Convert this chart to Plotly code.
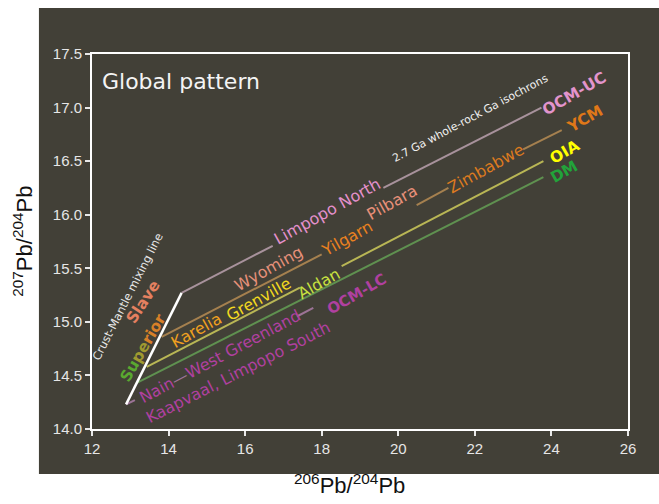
import plotly.graph_objects as go

# ---- data: Pb-Pb isochron traces (206Pb/204Pb, 207Pb/204Pb) ----
mixing_x = [12.89, 14.34]
mixing_y = [14.23, 15.27]

ocm_uc_x = [14.34, 16.72, None, 19.61, 23.74]
ocm_uc_y = [15.27, 15.71, None, 16.25, 17.00]

ycm_x = [13.82, 18.00, None, 20.48, 21.31, None, 23.26, 24.27]
ycm_y = [14.86, 15.63, None, 16.09, 16.25, None, 16.61, 16.79]

oia_x = [13.43, 17.43, None, 18.52, 23.79]
oia_y = [14.58, 15.32, None, 15.52, 16.50]

dm_x = [13.17, 23.79]
dm_y = [14.43, 16.35]

ocm_lc_x = [12.89, 13.12, None, 17.35, 17.78]
ocm_lc_y = [14.23, 14.27, None, 15.05, 15.13]

x_ticks = [12, 14, 16, 18, 20, 22, 24, 26]
y_ticks = [14.0, 14.5, 15.0, 15.5, 16.0, 16.5, 17.0, 17.5]

PANEL = "#424037"
FONT = "DejaVu Sans"

fig = go.Figure()

series = [
    (ocm_uc_x, ocm_uc_y, "#a8929c", 2),
    (ycm_x, ycm_y, "#a5804f", 2),
    (oia_x, oia_y, "#b9b655", 2),
    (dm_x, dm_y, "#5f9150", 2),
    (ocm_lc_x, ocm_lc_y, "#9c7396", 2),
    (mixing_x, mixing_y, "#ffffff", 2.5),
]
for xs, ys, col, w in series:
    fig.add_trace(go.Scatter(x=xs, y=ys, mode="lines",
                             line=dict(color=col, width=w),
                             connectgaps=False, hoverinfo="skip",
                             showlegend=False))

# ---- labels placed along the isochrons ----
labels = [
    # text, x, y, colour, size, angle, bold
    ("2.7 Ga whole-rock Ga isochrons", 21.87, 16.90, "#f0f0f0", 11, -28, False),
    ("Limpopo North", 18.14, 16.03, "#e490cc", 16, -29, False),
    ("Wyoming", 16.62, 15.50, "#e6907a", 16, -29, False),
    ("Karelia", 14.72, 14.92, "#f0a020", 16, -29, False),
    ("Grenville", 16.34, 15.21, "#f2d820", 16, -29, False),
    ("Aldan", 17.93, 15.36, "#c8e040", 16, -29, False),
    ("Yilgarn", 18.66, 15.78, "#ea8020", 16, -29, False),
    ("Pilbara", 19.84, 16.11, "#e8907a", 16, -29, False),
    ("Zimbabwe", 22.29, 16.43, "#dc7a20", 16, -29, False),
    ("OCM-UC", 24.59, 17.13, "#e294cc", 15.5, -30, True),
    ("YCM", 24.88, 16.89, "#e07818", 15.5, -30, True),
    ("OIA", 24.35, 16.59, "#ffff00", 15.5, -30, True),
    ("DM", 24.33, 16.40, "#22a33a", 15.5, -30, True),
    ("OCM-LC", 18.92, 15.26, "#b040a0", 15, -30, True),
    ("Nain<span style='color:#9c7396'>—</span>West Greenland", 15.34, 14.68,
     "#b040a0", 16, -28, False),
    ("Kaapvaal, Limpopo South", 15.81, 14.53, "#b040a0", 16, -27, False),
    ("Slave", 13.33, 15.19, "#e58060", 15.5, -57, True),
    ("<span style='color:#5aa830'>Su</span><span style='color:#a09a30'>pe</span>rior",
     13.33, 14.76, "#d88028", 15.5, -60, True),
    ("Crust-Mantle mixing line", 12.94, 15.24, "#e8e8e8", 11.5, -63, False),
]
for text, x, y, col, size, ang, bold in labels:
    fig.add_annotation(x=x, y=y, xref="x", yref="y",
                       text=f"<b>{text}</b>" if bold else text,
                       showarrow=False, textangle=ang,
                       xanchor="center", yanchor="middle",
                       font=dict(family=FONT, size=size, color=col))

fig.add_annotation(x=12.2, y=17.24, xref="x", yref="y", text="Global pattern",
                   showarrow=False, xanchor="left", yanchor="middle",
                   font=dict(family=FONT, size=22, color="#f4f4f4"))

# axis titles outside the dark panel
fig.add_annotation(x=0.481, y=-0.148, xref="paper", yref="paper",
                   text="<sup>206</sup>Pb/<sup>204</sup>Pb", showarrow=False,
                   xanchor="center", yanchor="middle",
                   font=dict(family="Liberation Sans", size=22, color="#111111"))
fig.add_annotation(x=-0.13, y=0.50, xref="paper", yref="paper",
                   text="<sup>207</sup>Pb/<sup>204</sup>Pb", showarrow=False,
                   textangle=-90, xanchor="center", yanchor="middle",
                   font=dict(family="Liberation Sans", size=22, color="#111111"))

# dark panel behind the plot
fig.add_shape(type="rect", xref="paper", yref="paper",
              x0=-0.099, x1=1.06, y0=-0.12, y1=1.123,
              fillcolor=PANEL, line=dict(width=0), layer="below")

axis_common = dict(showgrid=False, zeroline=False, showline=True,
                   linecolor="#ffffff", linewidth=2, mirror=True,
                   ticks="outside", ticklen=5, tickwidth=1.5,
                   tickcolor="#e8e8e8",
                   tickfont=dict(family="Liberation Sans", size=15,
                                 color="#e6e6e6"))

fig.update_xaxes(range=[12, 26], tickvals=x_ticks, **axis_common)
fig.update_yaxes(range=[14, 17.5], tickvals=y_ticks, tickformat=".1f",
                 **axis_common)

fig.update_layout(width=659, height=504,
                  margin=dict(l=92, r=31, t=54, b=75),
                  paper_bgcolor="#ffffff", plot_bgcolor=PANEL,
                  showlegend=False)

fig.write_html("out.html")
